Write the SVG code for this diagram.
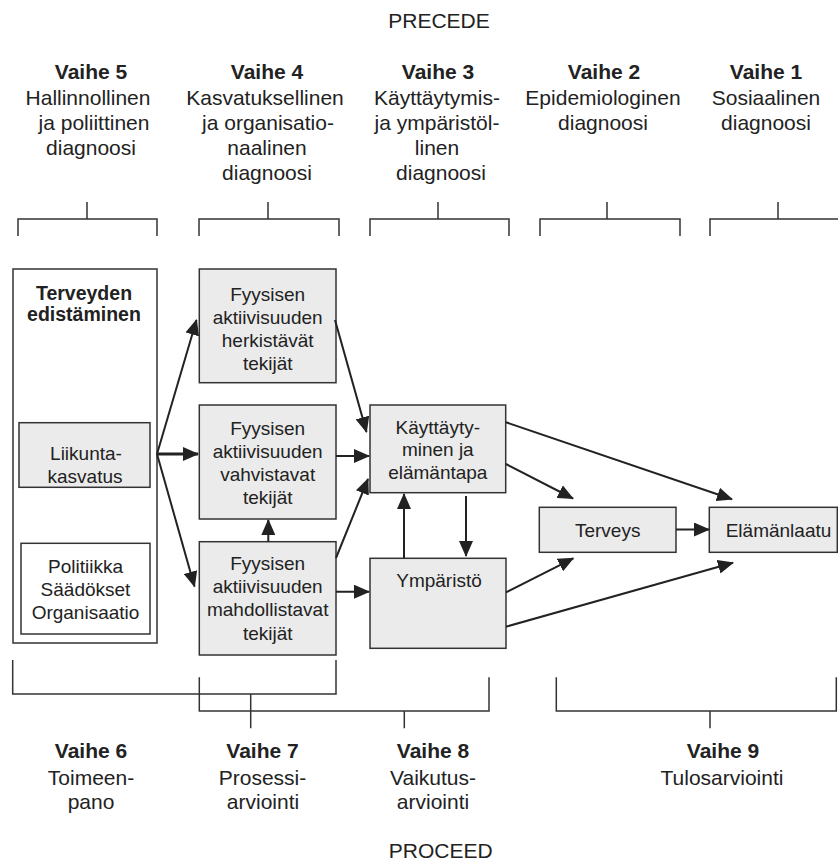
<svg xmlns="http://www.w3.org/2000/svg" width="838" height="861" viewBox="0 0 838 861">
  <style>
    text { font-family: "Liberation Sans", Arial, sans-serif; fill: #222; text-anchor: middle; }
    .hd { font-size: 21px; font-weight: bold; }
    .ht { font-size: 21px; }
    .bt { font-size: 19px; }
    .bb { font-size: 19.5px; font-weight: bold; }
    .box { fill: #ebebeb; stroke: #333; stroke-width: 1.5; }
    .wbox { fill: #fff; stroke: #333; stroke-width: 1.5; }
    .br { fill: none; stroke: #333; stroke-width: 1.5; }
    .ar { fill: none; stroke: #222; stroke-width: 2; marker-end: url(#ah); }
    .ar.thick { stroke-width: 3; }
  </style>
  <defs>
    <marker id="ah" markerUnits="userSpaceOnUse" markerWidth="17" markerHeight="14" refX="15" refY="7" orient="auto">
      <path d="M0,0 L16,7 L0,14 Z" fill="#222"/>
    </marker>
  </defs>

  <rect width="838" height="861" fill="#fff"/>

  <!-- PRECEDE headings -->
  <g id="precede">
    <text class="ht" x="439" y="28">PRECEDE</text>
  </g>
  <g id="vaihe5">
    <text class="hd" x="91" y="78.5">Vaihe 5</text>
    <text class="ht" x="88" y="105">Hallinnollinen</text>
    <text class="ht" x="94" y="130">ja poliittinen</text>
    <text class="ht" x="91" y="155">diagnoosi</text>
  </g>
  <g id="vaihe4">
    <text class="hd" x="267" y="78.5">Vaihe 4</text>
    <text class="ht" x="265" y="105">Kasvatuksellinen</text>
    <text class="ht" x="268" y="130">ja organisatio-</text>
    <text class="ht" x="267" y="155">naalinen</text>
    <text class="ht" x="267" y="180">diagnoosi</text>
  </g>
  <g id="vaihe3">
    <text class="hd" x="438" y="78.5">Vaihe 3</text>
    <text class="ht" x="437" y="105">Käyttäytymis-</text>
    <text class="ht" x="437" y="130">ja ympäristöl-</text>
    <text class="ht" x="437" y="155">linen</text>
    <text class="ht" x="441" y="180">diagnoosi</text>
  </g>
  <g id="vaihe2">
    <text class="hd" x="604" y="78.5">Vaihe 2</text>
    <text class="ht" x="603" y="105">Epidemiologinen</text>
    <text class="ht" x="603" y="130">diagnoosi</text>
  </g>
  <g id="vaihe1">
    <text class="hd" x="766" y="78.5">Vaihe 1</text>
    <text class="ht" x="766" y="105">Sosiaalinen</text>
    <text class="ht" x="766" y="130">diagnoosi</text>
  </g>

  <!-- top brackets -->
  <g id="top-brackets">
    <path class="br" d="M87,202 V219 M18,236 V219 H157 V236"/>
    <path class="br" d="M268,202 V219 M199,236 V219 H339 V236"/>
    <path class="br" d="M438,202 V219 M370,236 V219 H509 V236"/>
    <path class="br" d="M607,202 V219 M540,236 V219 H680 V236"/>
    <path class="br" d="M778,202 V219 M710,236 V219 H840"/>
  </g>

  <!-- nodes -->
  <g id="terveyden-edistaminen">
    <rect class="wbox" x="13" y="269" width="144" height="374"/>
    <text class="bb" x="84" y="299.5">Terveyden</text>
    <text class="bb" x="84" y="321">edistäminen</text>
  </g>
  <g id="liikuntakasvatus">
    <rect class="box" x="19" y="422.7" width="131" height="64.6"/>
    <text class="bt" x="86" y="460">Liikunta-</text>
    <text class="bt" x="85" y="482.7">kasvatus</text>
  </g>
  <g id="politiikka">
    <rect class="wbox" x="21" y="543.3" width="129" height="90.7"/>
    <text class="bt" x="85.5" y="573">Politiikka</text>
    <text class="bt" x="85.5" y="596">Säädökset</text>
    <text class="bt" x="85.5" y="619">Organisaatio</text>
  </g>
  <g id="herkistavat">
    <rect class="box" x="199.3" y="269" width="136.7" height="113.7"/>
    <text class="bt" x="267.7" y="301">Fyysisen</text>
    <text class="bt" x="267.7" y="324">aktiivisuuden</text>
    <text class="bt" x="267.7" y="347">herkistävät</text>
    <text class="bt" x="267.7" y="370">tekijät</text>
  </g>
  <g id="vahvistavat">
    <rect class="box" x="199.3" y="405" width="136.7" height="114"/>
    <text class="bt" x="267.7" y="434.5">Fyysisen</text>
    <text class="bt" x="267.7" y="457.5">aktiivisuuden</text>
    <text class="bt" x="267.7" y="481">vahvistavat</text>
    <text class="bt" x="267.7" y="504">tekijät</text>
  </g>
  <g id="mahdollistavat">
    <rect class="box" x="199.3" y="541.7" width="136.7" height="113.3"/>
    <text class="bt" x="267.7" y="570">Fyysisen</text>
    <text class="bt" x="267.7" y="593">aktiivisuuden</text>
    <text class="bt" x="267.7" y="616">mahdollistavat</text>
    <text class="bt" x="267.7" y="639.5">tekijät</text>
  </g>
  <g id="kayttaytyminen">
    <rect class="box" x="370" y="405" width="135.7" height="87.7"/>
    <text class="bt" x="437.8" y="433.5">Käyttäyty-</text>
    <text class="bt" x="437.8" y="456">minen ja</text>
    <text class="bt" x="437.8" y="478.5">elämäntapa</text>
  </g>
  <g id="ymparisto">
    <rect class="box" x="370" y="558.3" width="136" height="90"/>
    <text class="bt" x="439" y="586.7">Ympäristö</text>
  </g>
  <g id="terveys">
    <rect class="box" x="539.3" y="507.3" width="136.7" height="45"/>
    <text class="bt" x="607.7" y="536.7">Terveys</text>
  </g>
  <g id="elamanlaatu">
    <rect class="box" x="709.3" y="507.3" width="128" height="45"/>
    <text class="bt" x="778.5" y="536.7">Elämänlaatu</text>
  </g>

  <!-- connectors -->
  <g id="connectors">
    <line class="ar" x1="157" y1="454" x2="196.5" y2="320"/>
    <line class="ar thick" x1="157" y1="454" x2="198" y2="454"/>
    <line class="ar" x1="157" y1="454" x2="194.5" y2="586.5"/>
    <line class="ar" x1="335" y1="320" x2="366.5" y2="432"/>
    <line class="ar" x1="336" y1="456" x2="369" y2="456"/>
    <line class="ar" x1="336" y1="558" x2="368" y2="479"/>
    <line class="ar" x1="268.3" y1="541.7" x2="268.3" y2="520"/>
    <line class="ar" x1="336" y1="591.7" x2="369" y2="591.7"/>
    <line class="ar" x1="404" y1="558.3" x2="404" y2="494"/>
    <line class="ar" x1="466" y1="496" x2="466" y2="556"/>
    <line class="ar" x1="506" y1="464" x2="573" y2="498.5"/>
    <line class="ar" x1="506" y1="422.3" x2="732" y2="499.3"/>
    <line class="ar" x1="676" y1="529.5" x2="709" y2="529.5"/>
    <line class="ar" x1="506" y1="592.3" x2="573.3" y2="558.3"/>
    <line class="ar" x1="506" y1="626.7" x2="733" y2="562.7"/>
  </g>

  <!-- bottom brackets -->
  <g id="bottom-brackets">
    <path class="br" d="M12.7,660 V694 H336 V660 M250.7,694 V728.3"/>
    <path class="br" d="M199.3,677.3 V711 H489 V677.3 M404.3,711 V728.3"/>
    <path class="br" d="M556.3,677.3 V711 H836.3 V677.3 M710,711 V728.3"/>
  </g>

  <!-- PROCEED headings -->
  <g id="vaihe6">
    <text class="hd" x="91" y="758">Vaihe 6</text>
    <text class="ht" x="91" y="784.5">Toimeen-</text>
    <text class="ht" x="91" y="808.5">pano</text>
  </g>
  <g id="vaihe7">
    <text class="hd" x="262.5" y="758">Vaihe 7</text>
    <text class="ht" x="262.5" y="784.5">Prosessi-</text>
    <text class="ht" x="263" y="808.5">arviointi</text>
  </g>
  <g id="vaihe8">
    <text class="hd" x="433" y="758">Vaihe 8</text>
    <text class="ht" x="433" y="784.5">Vaikutus-</text>
    <text class="ht" x="433" y="808.5">arviointi</text>
  </g>
  <g id="vaihe9">
    <text class="hd" x="723" y="758">Vaihe 9</text>
    <text class="ht" x="722" y="784.5">Tulosarviointi</text>
  </g>
  <g id="proceed">
    <text class="ht" x="440.7" y="858">PROCEED</text>
  </g>
</svg>
